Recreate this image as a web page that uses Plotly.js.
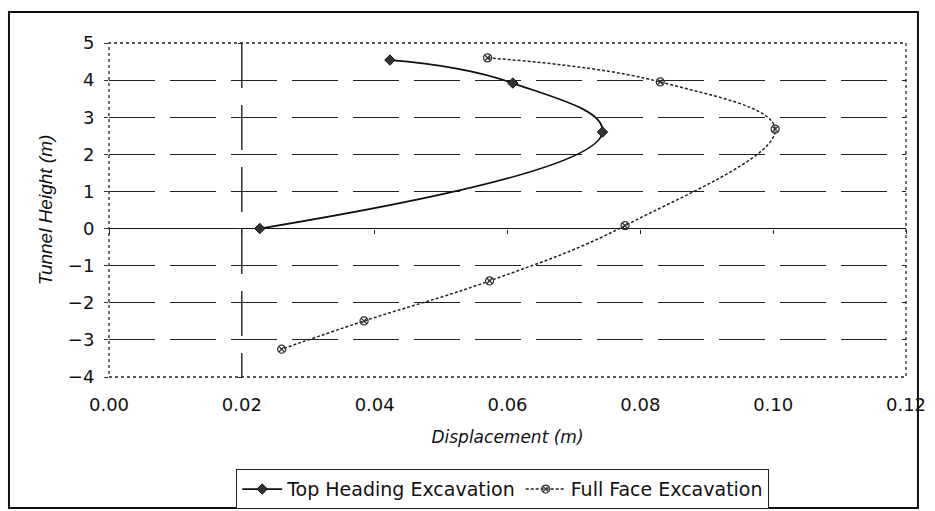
<!DOCTYPE html>
<html>
<head>
<meta charset="utf-8">
<script src="https://cdn.plot.ly/plotly-3.0.1.min.js"></script>
<style>html,body{margin:0;padding:0;background:#fff;}#chart{width:935px;height:511px;}</style>
</head>
<body>
<div id="chart"></div>
<script>
// Data
const topHeadingX = [0.0423, 0.0608, 0.0743, 0.0227];
const topHeadingY = [4.54, 3.92, 2.60, 0.0];
const fullFaceX = [0.057, 0.083, 0.1003, 0.0777, 0.0573, 0.0384, 0.026];
const fullFaceY = [4.60, 3.95, 2.68, 0.08, -1.41, -2.49, -3.25];
const xTicks = [0, 0.02, 0.04, 0.06, 0.08, 0.10, 0.12];
const xTickText = ["0.00", "0.02", "0.04", "0.06", "0.08", "0.10", "0.12"];
const yTicks = [-4, -3, -2, -1, 0, 1, 2, 3, 4, 5];
const xRange = [0, 0.12];
const yRange = [-4, 5];
const yAxisCrossX = 0.02;
const xAxisCrossY = 0;

const font = "DejaVu Sans, Liberation Sans, Arial, sans-serif";
const fontNarrow = "Liberation Sans, Arial, sans-serif";

const traces = [
  {
    x: topHeadingX, y: topHeadingY, name: "Top Heading Excavation",
    type: "scatter", mode: "lines+markers",
    line: {color: "#111", width: 1.7, shape: "spline", smoothing: 1.3},
    marker: {symbol: "diamond", size: 8, color: "#333", line: {color: "#111", width: 1}}
  },
  {
    x: fullFaceX, y: fullFaceY, name: "Full Face Excavation",
    type: "scatter", mode: "lines+markers",
    line: {color: "#222", width: 1.5, dash: "3px,2px", shape: "spline", smoothing: 1.1},
    marker: {symbol: "circle-x-open", size: 8, color: "#333", line: {color: "#333", width: 1.3}}
  }
];

const yFracZero = (xAxisCrossY - yRange[0]) / (yRange[1] - yRange[0]);
const xFracCross = (yAxisCrossX - xRange[0]) / (xRange[1] - xRange[0]);

const layout = {
  width: 935, height: 511,
  margin: {l: 109, r: 29, t: 43, b: 134, autoexpand: false},
  paper_bgcolor: "#fff", plot_bgcolor: "#fff",
  font: {family: font, size: 18, color: "#111"},
  showlegend: true,
  legend: {
    orientation: "h", x: 0.494, xanchor: "center", y: -0.276, yanchor: "top",
    bordercolor: "#222", borderwidth: 1, font: {family: font, size: 19, color: "#111"},
    itemwidth: 40, tracegroupgap: 0
  },
  xaxis: {
    range: xRange, tickvals: xTicks, ticktext: xTickText,
    showgrid: false, zeroline: false, showline: false, ticks: "",
    ticklabelstandoff: 15, automargin: false,
    tickfont: {family: font, size: 18, color: "#111"},
    title: {text: "<i>Displacement (m)</i>", font: {family: font, size: 17, color: "#111"}, standoff: 17}
  },
  yaxis: {
    range: yRange, tickvals: yTicks,
    showgrid: true, gridcolor: "#222", gridwidth: 1, griddash: "46px,15px",
    zeroline: true, zerolinecolor: "#111", zerolinewidth: 1.2,
    showline: false, ticks: "outside", ticklen: 4, tickcolor: "#333",
    ticklabelstandoff: 6, automargin: false,
    tickfont: {family: font, size: 18, color: "#111"},
    title: {text: "<i>Tunnel Height (m)</i>", font: {family: fontNarrow, size: 19, color: "#111"}, standoff: 10}
  },
  xaxis2: {
    overlaying: "x", matches: "x", anchor: "free", position: yFracZero, side: "bottom",
    tickvals: xTicks, showticklabels: false, ticks: "outside", ticklen: 4, tickcolor: "#222",
    showgrid: false, zeroline: false, showline: false
  },
  yaxis2: {
    overlaying: "y", matches: "y", anchor: "free", position: xFracCross, side: "left",
    tickvals: yTicks, showticklabels: false, ticks: "outside", ticklen: 4, tickcolor: "#222",
    showgrid: false, zeroline: false, showline: false
  },
  shapes: [
    {type: "line", xref: "x", yref: "y", x0: yAxisCrossX, x1: yAxisCrossX, y0: yRange[1], y1: yRange[0],
     line: {color: "#111", width: 1.3, dash: "45px,17px"}, layer: "below"},
    {type: "rect", xref: "paper", yref: "paper", x0: 0, x1: 1, y0: 0, y1: 1,
     line: {color: "#222", width: 1.3, dash: "dot"}, layer: "above"},
    {type: "rect", xref: "paper", yref: "paper", x0: -0.1255, x1: 1.015, y0: -0.392, y1: 1.093,
     line: {color: "#111", width: 2}, layer: "above"}
  ]
};

// invisible helper traces to activate the crossing axes
traces.push({x: [xRange[0]], y: [yRange[0]], xaxis: "x2", yaxis: "y", mode: "markers",
  marker: {opacity: 0}, showlegend: false, hoverinfo: "skip"});
traces.push({x: [xRange[0]], y: [yRange[0]], xaxis: "x", yaxis: "y2", mode: "markers",
  marker: {opacity: 0}, showlegend: false, hoverinfo: "skip"});

Plotly.newPlot("chart", traces, layout, {displayModeBar: false, staticPlot: true});
</script>
</body>
</html>
